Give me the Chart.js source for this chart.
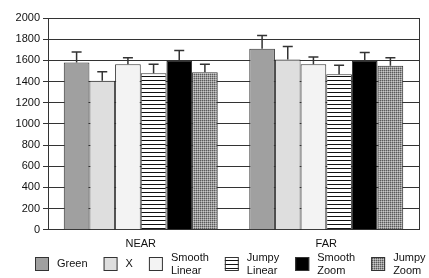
<!DOCTYPE html>
<html>
<head>
<meta charset="utf-8">
<script src="https://cdn.jsdelivr.net/npm/chart.js@4"></script>
<style>
  html, body { margin: 0; padding: 0; background: #fff; }
  #wrap { width: 429px; height: 278px; }
</style>
</head>
<body>
<div id="wrap"><canvas id="chart"></canvas></div>
<script>
// data
const groups = ['NEAR', 'FAR'];
const seriesNames = [['Green'], ['X'], ['Smooth', 'Linear'], ['Jumpy', 'Linear'], ['Smooth', 'Zoom'], ['Jumpy', 'Zoom']];
const green       = [1580, 1710];
const xVals       = [1408, 1607];
const smoothLin   = [1563, 1563];
const jumpyLin    = [1478, 1469];
const smoothZoom  = [1594, 1594];
const jumpyZoom   = [1487, 1550];
const greenErr      = [100, 125];
const xErr          = [85, 125];
const smoothLinErr  = [62, 68];
const jumpyLinErr   = [85, 85];
const smoothZoomErr = [100, 80];
const jumpyZoomErr  = [76, 75];
const yTicks = [0, 200, 400, 600, 800, 1000, 1200, 1400, 1600, 1800, 2000];

// fill patterns
function stripes() {
  let c = document.createElement('canvas');
  c.width = 4; c.height = 4;
  let g = c.getContext('2d');
  g.fillStyle = '#fff'; g.fillRect(0, 0, 4, 4);
  g.fillStyle = '#111'; g.fillRect(0, 0, 4, 1);
  return g.createPattern(c, 'repeat');
}
function checks() {
  let c = document.createElement('canvas');
  c.width = 2; c.height = 2;
  let g = c.getContext('2d');
  g.fillStyle = '#9a9a9a'; g.fillRect(0, 0, 2, 2);
  g.fillStyle = '#5a5a5a'; g.fillRect(0, 0, 1, 1);
  g.fillStyle = '#c8c8c8'; g.fillRect(1, 1, 1, 1);
  return g.createPattern(c, 'repeat');
}

const values = [green, xVals, smoothLin, jumpyLin, smoothZoom, jumpyZoom];
const errs = [greenErr, xErr, smoothLinErr, jumpyLinErr, smoothZoomErr, jumpyZoomErr];
const fills = ['#a0a0a0', '#dedede', '#f3f3f3', stripes(), '#000000', checks()];

// upward error bars with a cap
const errorBars = {
  id: 'errorBars',
  afterDatasetsDraw(chart) {
    let ctx = chart.ctx, y = chart.scales.y;
    ctx.save();
    ctx.strokeStyle = '#333';
    ctx.lineWidth = 1.5;
    chart.data.datasets.forEach((ds, i) => {
      chart.getDatasetMeta(i).data.forEach((bar, j) => {
        let top = y.getPixelForValue(ds.data[j] + errs[i][j]);
        ctx.beginPath();
        ctx.moveTo(bar.x, bar.y);
        ctx.lineTo(bar.x, top);
        ctx.moveTo(bar.x - 5, top);
        ctx.lineTo(bar.x + 5, top);
        ctx.stroke();
      });
    });
    ctx.restore();
  }
};

// legend row like the original: boxes in line, two-line names centred on the box
const boxLegend = {
  id: 'boxLegend',
  afterDraw(chart) {
    let ctx = chart.ctx;
    let x = 35, mid = 264, box = 14, gap = 8, space = 16, lh = 13;
    ctx.save();
    ctx.font = "11px 'Liberation Sans', Arial, sans-serif";
    ctx.textBaseline = 'middle';
    chart.data.datasets.forEach((ds, i) => {
      let lines = seriesNames[i];
      ctx.fillStyle = ds.backgroundColor;
      ctx.fillRect(x, mid - box / 2, box, box);
      ctx.strokeStyle = '#333';
      ctx.lineWidth = 1;
      ctx.strokeRect(x + 0.5, mid - box / 2 + 0.5, box - 1, box - 1);
      ctx.fillStyle = '#111';
      let tx = x + box + gap, w = 0;
      lines.forEach((s, k) => {
        ctx.fillText(s, tx, mid + (k - (lines.length - 1) / 2) * lh);
        w = Math.max(w, ctx.measureText(s).width);
      });
      x = tx + w + space;
    });
    ctx.restore();
  }
};

Chart.defaults.font.family = "'Liberation Sans', Arial, sans-serif";
Chart.defaults.font.size = 11;
Chart.defaults.color = '#111';

new Chart(document.getElementById('chart'), {
  type: 'bar',
  data: {
    labels: groups,
    datasets: values.map((v, i) => ({
      label: seriesNames[i].join(' '),
      data: v,
      backgroundColor: fills[i],
      borderColor: '#333',
      borderWidth: 1,
      categoryPercentage: 0.83,
      barPercentage: 1
    }))
  },
  options: {
    responsive: true,
    maintainAspectRatio: false,
    animation: false,
    layout: { padding: { top: 18, right: 0, left: 0, bottom: 27 } },
    scales: {
      x: {
        grid: { display: false },
        border: { color: '#333' },
        ticks: { padding: 0 }
      },
      y: {
        min: 0, max: 2000,
        afterBuildTicks: axis => { axis.ticks = yTicks.map(v => ({ value: v })); },
        afterFit: axis => { axis.width = 48; },
        grid: { color: '#333', tickLength: 5 },
        border: { color: '#333' },
        ticks: { padding: 3, callback: v => String(v) }
      },
      y2: {
        position: 'right',
        min: 0, max: 2000,
        afterFit: axis => { axis.width = 10; },
        grid: { display: false },
        border: { color: '#333' },
        ticks: { display: false }
      }
    },
    plugins: {
      legend: { display: false },
      tooltip: { enabled: false }
    }
  },
  plugins: [errorBars, boxLegend]
});
</script>
</body>
</html>
